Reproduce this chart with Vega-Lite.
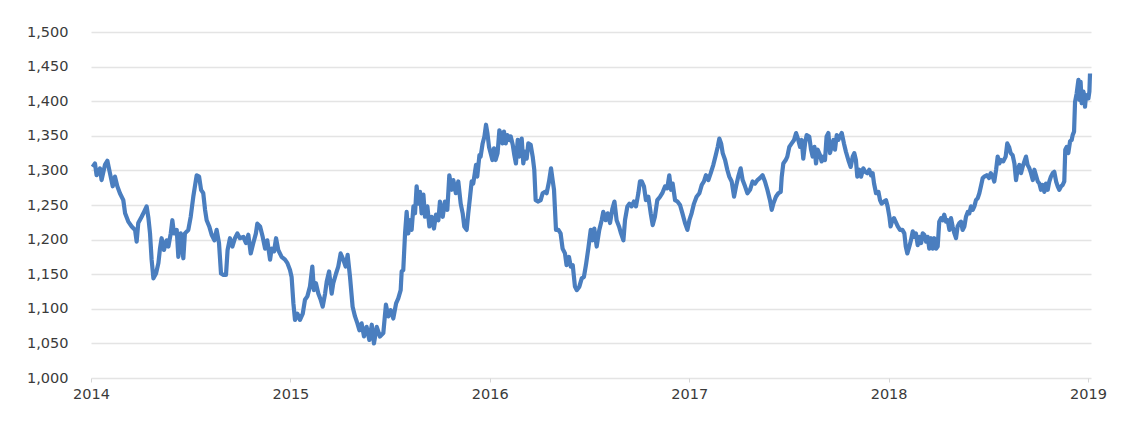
{
  "$schema": "https://vega.github.io/schema/vega-lite/v6.json",
  "width": 1000,
  "height": 346,
  "autosize": {"type": "none"},
  "padding": {"left": 91, "top": 32, "right": 39, "bottom": 54},
  "background": "white",
  "config": {
    "view": {"stroke": null},
    "axis": {
      "labelFont": "DejaVu Sans",
      "labelFontSize": 14.5,
      "labelColor": "#3a3a3a",
      "title": null
    }
  },
  "data": {
    "values": [
      {"t": 2014.008, "v": 1305}, {"t": 2014.020, "v": 1310}, {"t": 2014.028, "v": 1293}, {"t": 2014.045, "v": 1303},
      {"t": 2014.053, "v": 1286}, {"t": 2014.070, "v": 1308}, {"t": 2014.082, "v": 1314}, {"t": 2014.095, "v": 1296},
      {"t": 2014.109, "v": 1277}, {"t": 2014.120, "v": 1291}, {"t": 2014.132, "v": 1277}, {"t": 2014.145, "v": 1267},
      {"t": 2014.162, "v": 1257}, {"t": 2014.171, "v": 1238}, {"t": 2014.187, "v": 1226}, {"t": 2014.204, "v": 1219},
      {"t": 2014.221, "v": 1214}, {"t": 2014.229, "v": 1197}, {"t": 2014.237, "v": 1224}, {"t": 2014.254, "v": 1233},
      {"t": 2014.266, "v": 1240}, {"t": 2014.279, "v": 1248}, {"t": 2014.288, "v": 1231}, {"t": 2014.296, "v": 1209},
      {"t": 2014.304, "v": 1171}, {"t": 2014.313, "v": 1144}, {"t": 2014.326, "v": 1151}, {"t": 2014.338, "v": 1166},
      {"t": 2014.346, "v": 1187}, {"t": 2014.354, "v": 1202}, {"t": 2014.366, "v": 1185}, {"t": 2014.379, "v": 1199},
      {"t": 2014.388, "v": 1190}, {"t": 2014.400, "v": 1209}, {"t": 2014.408, "v": 1228}, {"t": 2014.416, "v": 1209},
      {"t": 2014.430, "v": 1214}, {"t": 2014.438, "v": 1175}, {"t": 2014.450, "v": 1209}, {"t": 2014.463, "v": 1173},
      {"t": 2014.471, "v": 1209}, {"t": 2014.488, "v": 1214}, {"t": 2014.500, "v": 1233}, {"t": 2014.513, "v": 1262},
      {"t": 2014.530, "v": 1293}, {"t": 2014.542, "v": 1291}, {"t": 2014.552, "v": 1272}, {"t": 2014.563, "v": 1267},
      {"t": 2014.572, "v": 1243}, {"t": 2014.580, "v": 1228}, {"t": 2014.593, "v": 1219}, {"t": 2014.605, "v": 1207},
      {"t": 2014.619, "v": 1199}, {"t": 2014.630, "v": 1214}, {"t": 2014.642, "v": 1195}, {"t": 2014.652, "v": 1151},
      {"t": 2014.664, "v": 1149}, {"t": 2014.677, "v": 1149}, {"t": 2014.685, "v": 1185}, {"t": 2014.697, "v": 1202},
      {"t": 2014.709, "v": 1190}, {"t": 2014.722, "v": 1202}, {"t": 2014.734, "v": 1209}, {"t": 2014.747, "v": 1202},
      {"t": 2014.764, "v": 1204}, {"t": 2014.777, "v": 1195}, {"t": 2014.789, "v": 1207}, {"t": 2014.801, "v": 1180},
      {"t": 2014.814, "v": 1195}, {"t": 2014.827, "v": 1209}, {"t": 2014.834, "v": 1223}, {"t": 2014.848, "v": 1219},
      {"t": 2014.861, "v": 1204}, {"t": 2014.873, "v": 1187}, {"t": 2014.884, "v": 1199}, {"t": 2014.898, "v": 1171},
      {"t": 2014.906, "v": 1187}, {"t": 2014.918, "v": 1183}, {"t": 2014.928, "v": 1202}, {"t": 2014.939, "v": 1185},
      {"t": 2014.956, "v": 1175}, {"t": 2014.973, "v": 1171}, {"t": 2014.985, "v": 1166}, {"t": 2014.998, "v": 1156},
      {"t": 2015.006, "v": 1146}, {"t": 2015.015, "v": 1108}, {"t": 2015.023, "v": 1084}, {"t": 2015.035, "v": 1093},
      {"t": 2015.048, "v": 1084}, {"t": 2015.062, "v": 1093}, {"t": 2015.073, "v": 1113}, {"t": 2015.085, "v": 1118},
      {"t": 2015.098, "v": 1132}, {"t": 2015.110, "v": 1161}, {"t": 2015.118, "v": 1127}, {"t": 2015.128, "v": 1137},
      {"t": 2015.140, "v": 1122}, {"t": 2015.152, "v": 1113}, {"t": 2015.162, "v": 1103}, {"t": 2015.174, "v": 1122},
      {"t": 2015.182, "v": 1139}, {"t": 2015.194, "v": 1154}, {"t": 2015.207, "v": 1122}, {"t": 2015.215, "v": 1137},
      {"t": 2015.229, "v": 1151}, {"t": 2015.240, "v": 1161}, {"t": 2015.252, "v": 1180}, {"t": 2015.265, "v": 1171},
      {"t": 2015.277, "v": 1161}, {"t": 2015.287, "v": 1178}, {"t": 2015.299, "v": 1146}, {"t": 2015.312, "v": 1103},
      {"t": 2015.324, "v": 1089}, {"t": 2015.336, "v": 1079}, {"t": 2015.346, "v": 1069}, {"t": 2015.357, "v": 1079},
      {"t": 2015.369, "v": 1060}, {"t": 2015.382, "v": 1074}, {"t": 2015.396, "v": 1055}, {"t": 2015.408, "v": 1077},
      {"t": 2015.419, "v": 1050}, {"t": 2015.433, "v": 1074}, {"t": 2015.449, "v": 1060}, {"t": 2015.466, "v": 1065},
      {"t": 2015.479, "v": 1106}, {"t": 2015.491, "v": 1089}, {"t": 2015.503, "v": 1098}, {"t": 2015.516, "v": 1086},
      {"t": 2015.530, "v": 1108}, {"t": 2015.541, "v": 1115}, {"t": 2015.553, "v": 1127}, {"t": 2015.558, "v": 1154},
      {"t": 2015.566, "v": 1156}, {"t": 2015.575, "v": 1209}, {"t": 2015.583, "v": 1240}, {"t": 2015.591, "v": 1209},
      {"t": 2015.600, "v": 1228}, {"t": 2015.608, "v": 1214}, {"t": 2015.617, "v": 1248}, {"t": 2015.625, "v": 1238},
      {"t": 2015.633, "v": 1277}, {"t": 2015.642, "v": 1252}, {"t": 2015.650, "v": 1269}, {"t": 2015.658, "v": 1238},
      {"t": 2015.667, "v": 1265}, {"t": 2015.675, "v": 1233}, {"t": 2015.687, "v": 1248}, {"t": 2015.697, "v": 1219},
      {"t": 2015.708, "v": 1233}, {"t": 2015.720, "v": 1216}, {"t": 2015.730, "v": 1236}, {"t": 2015.742, "v": 1228},
      {"t": 2015.750, "v": 1255}, {"t": 2015.764, "v": 1233}, {"t": 2015.775, "v": 1255}, {"t": 2015.787, "v": 1243},
      {"t": 2015.797, "v": 1293}, {"t": 2015.809, "v": 1272}, {"t": 2015.817, "v": 1286}, {"t": 2015.830, "v": 1267},
      {"t": 2015.842, "v": 1284}, {"t": 2015.854, "v": 1252}, {"t": 2015.864, "v": 1238}, {"t": 2015.872, "v": 1219},
      {"t": 2015.884, "v": 1214}, {"t": 2015.892, "v": 1238}, {"t": 2015.901, "v": 1262}, {"t": 2015.909, "v": 1284},
      {"t": 2015.917, "v": 1281}, {"t": 2015.931, "v": 1308}, {"t": 2015.937, "v": 1291}, {"t": 2015.948, "v": 1322},
      {"t": 2015.954, "v": 1320}, {"t": 2015.964, "v": 1339}, {"t": 2015.973, "v": 1349}, {"t": 2015.981, "v": 1366},
      {"t": 2015.988, "v": 1354}, {"t": 2015.996, "v": 1334}, {"t": 2016.004, "v": 1325}, {"t": 2016.013, "v": 1315},
      {"t": 2016.021, "v": 1332}, {"t": 2016.029, "v": 1315}, {"t": 2016.039, "v": 1325}, {"t": 2016.048, "v": 1358},
      {"t": 2016.056, "v": 1351}, {"t": 2016.063, "v": 1339}, {"t": 2016.071, "v": 1356}, {"t": 2016.080, "v": 1339},
      {"t": 2016.088, "v": 1351}, {"t": 2016.098, "v": 1344}, {"t": 2016.105, "v": 1349}, {"t": 2016.115, "v": 1337},
      {"t": 2016.123, "v": 1322}, {"t": 2016.131, "v": 1310}, {"t": 2016.140, "v": 1344}, {"t": 2016.148, "v": 1320},
      {"t": 2016.160, "v": 1346}, {"t": 2016.168, "v": 1310}, {"t": 2016.177, "v": 1327}, {"t": 2016.185, "v": 1317},
      {"t": 2016.193, "v": 1339}, {"t": 2016.205, "v": 1337}, {"t": 2016.215, "v": 1320}, {"t": 2016.223, "v": 1301},
      {"t": 2016.230, "v": 1257}, {"t": 2016.243, "v": 1255}, {"t": 2016.255, "v": 1257}, {"t": 2016.265, "v": 1267},
      {"t": 2016.277, "v": 1269}, {"t": 2016.285, "v": 1267}, {"t": 2016.297, "v": 1284}, {"t": 2016.307, "v": 1303},
      {"t": 2016.315, "v": 1286}, {"t": 2016.322, "v": 1272}, {"t": 2016.332, "v": 1214}, {"t": 2016.344, "v": 1214},
      {"t": 2016.355, "v": 1209}, {"t": 2016.365, "v": 1187}, {"t": 2016.377, "v": 1180}, {"t": 2016.385, "v": 1163},
      {"t": 2016.397, "v": 1175}, {"t": 2016.406, "v": 1161}, {"t": 2016.416, "v": 1163}, {"t": 2016.427, "v": 1132},
      {"t": 2016.436, "v": 1127}, {"t": 2016.449, "v": 1132}, {"t": 2016.461, "v": 1144}, {"t": 2016.472, "v": 1146},
      {"t": 2016.482, "v": 1163}, {"t": 2016.494, "v": 1187}, {"t": 2016.506, "v": 1214}, {"t": 2016.516, "v": 1199},
      {"t": 2016.524, "v": 1216}, {"t": 2016.536, "v": 1190}, {"t": 2016.549, "v": 1214}, {"t": 2016.561, "v": 1228},
      {"t": 2016.569, "v": 1240}, {"t": 2016.581, "v": 1228}, {"t": 2016.591, "v": 1238}, {"t": 2016.603, "v": 1224},
      {"t": 2016.615, "v": 1245}, {"t": 2016.625, "v": 1255}, {"t": 2016.636, "v": 1228}, {"t": 2016.648, "v": 1219},
      {"t": 2016.658, "v": 1209}, {"t": 2016.670, "v": 1199}, {"t": 2016.678, "v": 1228}, {"t": 2016.690, "v": 1248},
      {"t": 2016.700, "v": 1252}, {"t": 2016.711, "v": 1248}, {"t": 2016.723, "v": 1255}, {"t": 2016.733, "v": 1248},
      {"t": 2016.745, "v": 1267}, {"t": 2016.753, "v": 1284}, {"t": 2016.762, "v": 1284}, {"t": 2016.773, "v": 1277},
      {"t": 2016.783, "v": 1257}, {"t": 2016.795, "v": 1262}, {"t": 2016.807, "v": 1238}, {"t": 2016.817, "v": 1221},
      {"t": 2016.828, "v": 1233}, {"t": 2016.840, "v": 1257}, {"t": 2016.854, "v": 1262}, {"t": 2016.865, "v": 1267},
      {"t": 2016.879, "v": 1277}, {"t": 2016.890, "v": 1274}, {"t": 2016.900, "v": 1293}, {"t": 2016.909, "v": 1272},
      {"t": 2016.917, "v": 1281}, {"t": 2016.929, "v": 1257}, {"t": 2016.941, "v": 1255}, {"t": 2016.954, "v": 1250},
      {"t": 2016.966, "v": 1238}, {"t": 2016.979, "v": 1224}, {"t": 2016.991, "v": 1214}, {"t": 2017.001, "v": 1228},
      {"t": 2017.012, "v": 1238}, {"t": 2017.024, "v": 1252}, {"t": 2017.037, "v": 1262}, {"t": 2017.051, "v": 1267},
      {"t": 2017.063, "v": 1279}, {"t": 2017.074, "v": 1284}, {"t": 2017.084, "v": 1293}, {"t": 2017.096, "v": 1286},
      {"t": 2017.108, "v": 1296}, {"t": 2017.121, "v": 1308}, {"t": 2017.133, "v": 1322}, {"t": 2017.143, "v": 1334},
      {"t": 2017.151, "v": 1346}, {"t": 2017.160, "v": 1339}, {"t": 2017.168, "v": 1325}, {"t": 2017.180, "v": 1315},
      {"t": 2017.191, "v": 1301}, {"t": 2017.201, "v": 1291}, {"t": 2017.213, "v": 1284}, {"t": 2017.225, "v": 1262},
      {"t": 2017.235, "v": 1277}, {"t": 2017.246, "v": 1291}, {"t": 2017.258, "v": 1303}, {"t": 2017.268, "v": 1286},
      {"t": 2017.280, "v": 1277}, {"t": 2017.292, "v": 1267}, {"t": 2017.305, "v": 1272}, {"t": 2017.318, "v": 1284},
      {"t": 2017.330, "v": 1281}, {"t": 2017.342, "v": 1286}, {"t": 2017.355, "v": 1289}, {"t": 2017.368, "v": 1293},
      {"t": 2017.380, "v": 1284}, {"t": 2017.392, "v": 1272}, {"t": 2017.405, "v": 1257}, {"t": 2017.414, "v": 1243},
      {"t": 2017.422, "v": 1252}, {"t": 2017.435, "v": 1262}, {"t": 2017.447, "v": 1267}, {"t": 2017.459, "v": 1269},
      {"t": 2017.464, "v": 1291}, {"t": 2017.472, "v": 1310}, {"t": 2017.484, "v": 1315}, {"t": 2017.492, "v": 1320},
      {"t": 2017.502, "v": 1334}, {"t": 2017.514, "v": 1339}, {"t": 2017.526, "v": 1344}, {"t": 2017.536, "v": 1354},
      {"t": 2017.547, "v": 1344}, {"t": 2017.556, "v": 1334}, {"t": 2017.564, "v": 1344}, {"t": 2017.572, "v": 1317},
      {"t": 2017.581, "v": 1339}, {"t": 2017.589, "v": 1351}, {"t": 2017.602, "v": 1349}, {"t": 2017.611, "v": 1330},
      {"t": 2017.619, "v": 1320}, {"t": 2017.628, "v": 1334}, {"t": 2017.636, "v": 1310}, {"t": 2017.644, "v": 1330},
      {"t": 2017.656, "v": 1322}, {"t": 2017.664, "v": 1313}, {"t": 2017.673, "v": 1320}, {"t": 2017.681, "v": 1315},
      {"t": 2017.689, "v": 1349}, {"t": 2017.698, "v": 1354}, {"t": 2017.706, "v": 1325}, {"t": 2017.714, "v": 1334},
      {"t": 2017.723, "v": 1344}, {"t": 2017.731, "v": 1330}, {"t": 2017.740, "v": 1351}, {"t": 2017.748, "v": 1344},
      {"t": 2017.756, "v": 1349}, {"t": 2017.765, "v": 1354}, {"t": 2017.776, "v": 1339}, {"t": 2017.786, "v": 1327},
      {"t": 2017.798, "v": 1315}, {"t": 2017.810, "v": 1305}, {"t": 2017.820, "v": 1320}, {"t": 2017.828, "v": 1325},
      {"t": 2017.836, "v": 1315}, {"t": 2017.843, "v": 1291}, {"t": 2017.853, "v": 1301}, {"t": 2017.862, "v": 1291},
      {"t": 2017.873, "v": 1303}, {"t": 2017.882, "v": 1298}, {"t": 2017.893, "v": 1296}, {"t": 2017.903, "v": 1301},
      {"t": 2017.912, "v": 1293}, {"t": 2017.920, "v": 1296}, {"t": 2017.927, "v": 1281}, {"t": 2017.937, "v": 1267},
      {"t": 2017.949, "v": 1269}, {"t": 2017.957, "v": 1257}, {"t": 2017.965, "v": 1252}, {"t": 2017.977, "v": 1255},
      {"t": 2017.987, "v": 1257}, {"t": 2017.995, "v": 1248}, {"t": 2018.004, "v": 1233}, {"t": 2018.010, "v": 1219},
      {"t": 2018.019, "v": 1228}, {"t": 2018.027, "v": 1231}, {"t": 2018.035, "v": 1226}, {"t": 2018.046, "v": 1219},
      {"t": 2018.057, "v": 1214}, {"t": 2018.069, "v": 1214}, {"t": 2018.079, "v": 1209}, {"t": 2018.086, "v": 1190},
      {"t": 2018.094, "v": 1180}, {"t": 2018.104, "v": 1190}, {"t": 2018.112, "v": 1199}, {"t": 2018.121, "v": 1212},
      {"t": 2018.129, "v": 1204}, {"t": 2018.137, "v": 1209}, {"t": 2018.146, "v": 1192}, {"t": 2018.154, "v": 1204},
      {"t": 2018.163, "v": 1195}, {"t": 2018.171, "v": 1209}, {"t": 2018.179, "v": 1207}, {"t": 2018.188, "v": 1197},
      {"t": 2018.196, "v": 1204}, {"t": 2018.204, "v": 1187}, {"t": 2018.213, "v": 1202}, {"t": 2018.221, "v": 1187},
      {"t": 2018.229, "v": 1202}, {"t": 2018.238, "v": 1187}, {"t": 2018.246, "v": 1190}, {"t": 2018.254, "v": 1226},
      {"t": 2018.263, "v": 1231}, {"t": 2018.271, "v": 1228}, {"t": 2018.279, "v": 1236}, {"t": 2018.288, "v": 1226},
      {"t": 2018.296, "v": 1228}, {"t": 2018.305, "v": 1214}, {"t": 2018.313, "v": 1231}, {"t": 2018.321, "v": 1219},
      {"t": 2018.330, "v": 1209}, {"t": 2018.338, "v": 1202}, {"t": 2018.346, "v": 1219}, {"t": 2018.355, "v": 1224},
      {"t": 2018.363, "v": 1226}, {"t": 2018.371, "v": 1214}, {"t": 2018.380, "v": 1219}, {"t": 2018.388, "v": 1233},
      {"t": 2018.397, "v": 1240}, {"t": 2018.405, "v": 1238}, {"t": 2018.413, "v": 1248}, {"t": 2018.422, "v": 1243},
      {"t": 2018.430, "v": 1248}, {"t": 2018.438, "v": 1257}, {"t": 2018.447, "v": 1260}, {"t": 2018.455, "v": 1267},
      {"t": 2018.463, "v": 1277}, {"t": 2018.472, "v": 1289}, {"t": 2018.480, "v": 1291}, {"t": 2018.492, "v": 1293},
      {"t": 2018.504, "v": 1289}, {"t": 2018.512, "v": 1296}, {"t": 2018.522, "v": 1291}, {"t": 2018.530, "v": 1284},
      {"t": 2018.539, "v": 1301}, {"t": 2018.547, "v": 1320}, {"t": 2018.555, "v": 1310}, {"t": 2018.564, "v": 1315},
      {"t": 2018.575, "v": 1313}, {"t": 2018.587, "v": 1320}, {"t": 2018.595, "v": 1339}, {"t": 2018.604, "v": 1334},
      {"t": 2018.612, "v": 1325}, {"t": 2018.622, "v": 1322}, {"t": 2018.631, "v": 1310}, {"t": 2018.639, "v": 1286},
      {"t": 2018.647, "v": 1301}, {"t": 2018.656, "v": 1308}, {"t": 2018.664, "v": 1296}, {"t": 2018.672, "v": 1305},
      {"t": 2018.681, "v": 1313}, {"t": 2018.689, "v": 1320}, {"t": 2018.697, "v": 1308}, {"t": 2018.706, "v": 1303},
      {"t": 2018.714, "v": 1296}, {"t": 2018.723, "v": 1286}, {"t": 2018.731, "v": 1301}, {"t": 2018.739, "v": 1293},
      {"t": 2018.748, "v": 1284}, {"t": 2018.756, "v": 1281}, {"t": 2018.764, "v": 1272}, {"t": 2018.773, "v": 1279},
      {"t": 2018.781, "v": 1269}, {"t": 2018.789, "v": 1281}, {"t": 2018.798, "v": 1272}, {"t": 2018.806, "v": 1284},
      {"t": 2018.814, "v": 1291}, {"t": 2018.823, "v": 1296}, {"t": 2018.831, "v": 1298}, {"t": 2018.840, "v": 1284},
      {"t": 2018.848, "v": 1277}, {"t": 2018.856, "v": 1272}, {"t": 2018.865, "v": 1277}, {"t": 2018.873, "v": 1279},
      {"t": 2018.881, "v": 1284}, {"t": 2018.886, "v": 1330}, {"t": 2018.893, "v": 1334}, {"t": 2018.901, "v": 1325},
      {"t": 2018.910, "v": 1342}, {"t": 2018.918, "v": 1344}, {"t": 2018.923, "v": 1351}, {"t": 2018.930, "v": 1356},
      {"t": 2018.935, "v": 1399}, {"t": 2018.943, "v": 1411}, {"t": 2018.952, "v": 1431}, {"t": 2018.957, "v": 1402},
      {"t": 2018.963, "v": 1428}, {"t": 2018.968, "v": 1397}, {"t": 2018.977, "v": 1414}, {"t": 2018.985, "v": 1392},
      {"t": 2018.990, "v": 1409}, {"t": 2018.997, "v": 1407}, {"t": 2019.002, "v": 1404}, {"t": 2019.007, "v": 1414},
      {"t": 2019.010, "v": 1440}
    ]
  },
  "mark": {
    "type": "line",
    "color": "#4a7ebf",
    "strokeWidth": 4.2,
    "strokeJoin": "round"
  },
  "encoding": {
    "x": {
      "field": "t",
      "type": "quantitative",
      "scale": {"domain": [2014, 2019.015], "nice": false, "zero": false},
      "axis": {
        "values": [2014, 2015, 2016, 2017, 2018, 2019],
        "format": "d",
        "grid": false,
        "domain": false,
        "ticks": true,
        "tickColor": "#d6d6d6",
        "tickSize": 4,
        "labelPadding": 5,
        "labelFlush": false
      }
    },
    "y": {
      "field": "v",
      "type": "quantitative",
      "scale": {"domain": [1000, 1500], "nice": false, "zero": false},
      "axis": {
        "values": [1000, 1050, 1100, 1150, 1200, 1250, 1300, 1350, 1400, 1450, 1500],
        "format": ",.0f",
        "grid": true,
        "gridColor": "#e4e4e4",
        "gridWidth": 1.5,
        "domain": false,
        "ticks": false,
        "labelPadding": 23
      }
    }
  }
}
